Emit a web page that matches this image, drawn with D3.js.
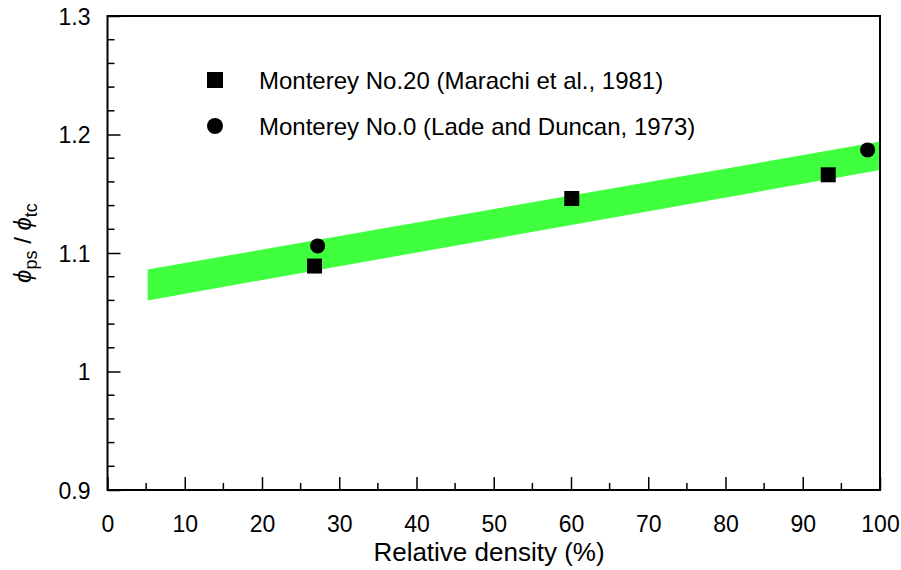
<!DOCTYPE html>
<html>
<head>
<meta charset="utf-8">
<script src="https://cdn.jsdelivr.net/npm/d3@7"></script>
<style>
  body { margin: 0; background: #fff; }
  text { font-family: "Liberation Sans", Arial, sans-serif; fill: #000; }
</style>
</head>
<body>
<svg id="chart" width="901" height="570"></svg>
<script>
// data
const xTicks = [0, 10, 20, 30, 40, 50, 60, 70, 80, 90, 100];
const yTicks = [0.9, 1, 1.1, 1.2, 1.3];
const yTickLabels = ["0.9", "1", "1.1", "1.2", "1.3"];

const marachiDensity = [26.8, 60.1, 93.3];
const marachiRatio = [1.089, 1.146, 1.166];
const ladeDensity = [27.2, 98.4];
const ladeRatio = [1.106, 1.187];

// green band: upper and lower edges
const bandDensity = [5.2, 100];
const bandUpper = [1.086, 1.194];
const bandLower = [1.060, 1.170];

const svg = d3.select("#chart"),
  margin = {top: 16, right: 21, bottom: 80, left: 107.5},
  width = 901 - margin.left - margin.right,
  height = 570 - margin.top - margin.bottom;

const x = d3.scaleLinear().domain([0, 100]).range([0, width]);
const y = d3.scaleLinear().domain([0.9, 1.3]).range([height, 0]);

const g = svg.append("g")
  .attr("transform", "translate(" + margin.left + "," + margin.top + ")");

// band
const band = bandDensity.map((d, i) => [x(d), y(bandUpper[i])])
  .concat(bandDensity.map((d, i) => [x(d), y(bandLower[i])]).reverse());
g.append("path")
  .attr("d", d3.line()(band) + "Z")
  .attr("fill", "#3fff3f");

// frame
g.append("rect")
  .attr("width", width).attr("height", height)
  .attr("fill", "none").attr("stroke", "#000").attr("stroke-width", 2);

// x axis, ticks inside
const xMinor = d3.range(5, 100, 10);
g.append("g")
  .attr("transform", "translate(0," + height + ")")
  .call(d3.axisBottom(x).tickValues(xTicks).tickSize(-13).tickPadding(26))
  .call(a => a.select(".domain").remove())
  .call(a => a.selectAll("text").attr("font-size", 23).attr("dy", "0.71em"))
  .call(a => a.selectAll("line").attr("stroke-width", 1.5));
g.append("g").selectAll("line").data(xMinor).join("line")
  .attr("x1", d => x(d)).attr("x2", d => x(d))
  .attr("y1", height).attr("y2", height - 7)
  .attr("stroke", "#000").attr("stroke-width", 1.5);

// y axis, ticks inside
const yMinor = d3.range(0.92, 1.3, 0.02).filter(v => Math.abs(v * 10 - Math.round(v * 10)) > 0.01);
g.append("g")
  .call(d3.axisLeft(y).tickValues(yTicks).tickFormat((d, i) => yTickLabels[i]).tickSize(-13).tickPadding(17))
  .call(a => a.select(".domain").remove())
  .call(a => a.selectAll("text").attr("font-size", 23).attr("dy", "0.36em"))
  .call(a => a.selectAll("line").attr("stroke-width", 1.5));
g.append("g").selectAll("line").data(yMinor).join("line")
  .attr("x1", 0).attr("x2", 7)
  .attr("y1", d => y(d)).attr("y2", d => y(d))
  .attr("stroke", "#000").attr("stroke-width", 1.5);

// points
g.selectAll(".sq").data(marachiDensity).join("rect")
  .attr("class", "sq")
  .attr("x", (d, i) => x(d) - 7.5).attr("y", (d, i) => y(marachiRatio[i]) - 7.5)
  .attr("width", 15).attr("height", 15).attr("fill", "#000");
g.selectAll(".ci").data(ladeDensity).join("circle")
  .attr("class", "ci")
  .attr("cx", d => x(d)).attr("cy", (d, i) => y(ladeRatio[i]))
  .attr("r", 7.5).attr("fill", "#000");

// legend
const legend = svg.append("g");
legend.append("rect").attr("x", 207).attr("y", 72).attr("width", 16).attr("height", 16).attr("fill", "#000");
legend.append("text").attr("x", 259).attr("y", 89).attr("font-size", 24)
  .text("Monterey No.20 (Marachi et al., 1981)");
legend.append("circle").attr("cx", 215).attr("cy", 126).attr("r", 8).attr("fill", "#000");
legend.append("text").attr("x", 259).attr("y", 135).attr("font-size", 24)
  .text("Monterey No.0 (Lade and Duncan, 1973)");

// axis titles
svg.append("text")
  .attr("x", 489).attr("y", 561)
  .attr("text-anchor", "middle").attr("font-size", 26)
  .text("Relative density (%)");

const yt = svg.append("text")
  .attr("transform", "translate(31,243) rotate(-90)")
  .attr("text-anchor", "middle").attr("font-size", 24);
yt.append("tspan").attr("font-style", "italic").text("\u03D5");
yt.append("tspan").attr("font-size", 18).attr("dy", 6).text("ps");
yt.append("tspan").attr("dy", -6).text(" / ");
yt.append("tspan").attr("font-style", "italic").text("\u03D5");
yt.append("tspan").attr("font-size", 18).attr("dy", 6).text("tc");
</script>
</body>
</html>
